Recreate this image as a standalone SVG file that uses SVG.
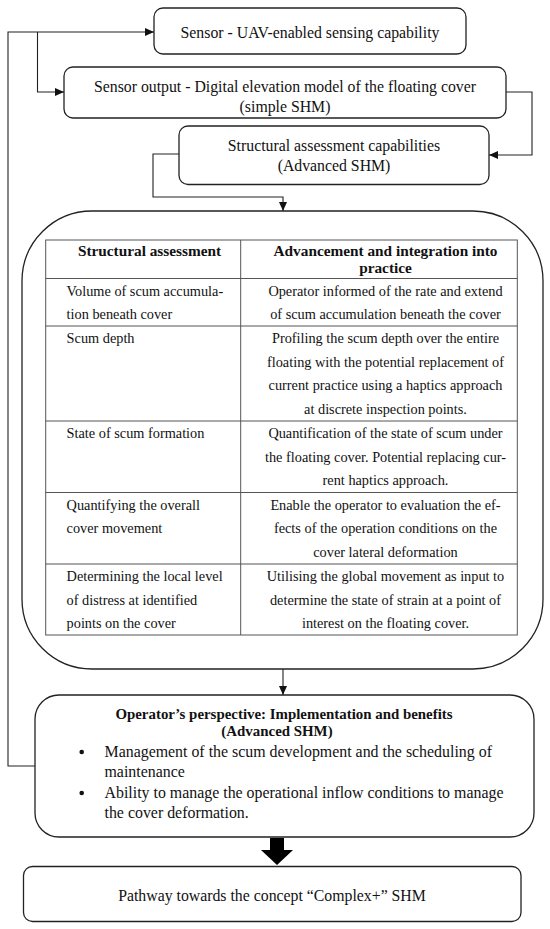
<svg xmlns="http://www.w3.org/2000/svg" width="550" height="929" viewBox="0 0 550 929">
<defs>
<marker id="ah" markerUnits="userSpaceOnUse" markerWidth="9" markerHeight="8" refX="9" refY="4" orient="auto">
<path d="M0,0 L9,4 L0,8 z" fill="#111"/>
</marker>
<style>
text{font-family:"Liberation Serif","Times New Roman",serif;fill:#111}
.box{fill:#fff;stroke:#222;stroke-width:1.3}
.bt{font-size:15.8px;text-anchor:middle}
.th{font-size:15.3px;font-weight:bold;text-anchor:middle}
.tb{font-size:14.3px}
.c2{text-anchor:middle}
.grid{stroke:#555;stroke-width:1;fill:none}
.con{fill:none;stroke:#222;stroke-width:1.1}
.ot{font-size:14.9px;font-weight:bold;text-anchor:middle}
</style>
</defs>
<rect width="550" height="929" fill="#fff"/>
<g id="connectors">
<path class="con" d="M35,766 H8 V32 H154" marker-end="url(#ah)"/>
<path class="con" d="M37.5,32 V92 H64" marker-end="url(#ah)"/>
<path class="con" d="M506,92 H532 V155 H489" marker-end="url(#ah)"/>
<path class="con" d="M179,154 H153 V197 H283 V211" marker-end="url(#ah)"/>
<path class="con" d="M283,669 V695" marker-end="url(#ah)"/>
<polygon points="270,838 284,838 284,850 293,850 277,865 261,850 270,850" fill="#000"/>
</g>
<g id="sensor">
<rect class="box" x="154" y="8" width="312" height="46" rx="9"/>
<text class="bt" x="310" y="37.5">Sensor - UAV-enabled sensing capability</text>
</g>
<g id="sensor-output">
<rect class="box" x="64" y="67" width="442" height="51" rx="9"/>
<text class="bt" x="285" y="92">Sensor output - Digital elevation model of the floating cover</text>
<text class="bt" x="285" y="112">(simple SHM)</text>
</g>
<g id="structural-capabilities">
<rect class="box" x="179" y="126" width="310" height="58.5" rx="9"/>
<text class="bt" x="334" y="151">Structural assessment capabilities</text>
<text class="bt" x="334" y="171">(Advanced SHM)</text>
</g>
<g id="assessment-table">
<rect class="box" x="22" y="211" width="521" height="458" rx="70"/>
<rect class="grid" x="45.7" y="240" width="471.6" height="395"/>
<path class="grid" d="M240.7,240 V635 M45.7,278.5 H517.3 M45.7,326 H517.3 M45.7,421 H517.3 M45.7,492.5 H517.3 M45.7,564 H517.3"/>
<text class="th" x="149.5" y="255.5">Structural assessment</text>
<text class="th" x="385.5" y="255.5">Advancement and integration into</text>
<text class="th" x="385.5" y="273">practice</text>
<g class="tb">
<text x="66.6" y="295.5">Volume of scum accumula-</text>
<text x="66.6" y="318.5">tion beneath cover</text>
<text class="c2" x="385.5" y="295.5">Operator informed of the rate and extend</text>
<text class="c2" x="385.5" y="318.5">of scum accumulation beneath the cover</text>
<text x="66.6" y="343">Scum depth</text>
<text class="c2" x="385.5" y="343">Profiling the scum depth over the entire</text>
<text class="c2" x="385.5" y="366.5">floating with the potential replacement of</text>
<text class="c2" x="385.5" y="390">current practice using a haptics approach</text>
<text class="c2" x="385.5" y="413.5">at discrete inspection points.</text>
<text x="66.6" y="438">State of scum formation</text>
<text class="c2" x="385.5" y="438">Quantification of the state of scum under</text>
<text class="c2" x="385.5" y="461.5">the floating cover. Potential replacing cur-</text>
<text class="c2" x="385.5" y="485">rent haptics approach.</text>
<text x="66.6" y="509.5">Quantifying the overall</text>
<text x="66.6" y="533">cover movement</text>
<text class="c2" x="385.5" y="509.5">Enable the operator to evaluation the ef-</text>
<text class="c2" x="385.5" y="533">fects of the operation conditions on the</text>
<text class="c2" x="385.5" y="556.5">cover lateral deformation</text>
<text x="66.6" y="581">Determining the local level</text>
<text x="66.6" y="604.5">of distress at identified</text>
<text x="66.6" y="628">points on the cover</text>
<text class="c2" x="385.5" y="581">Utilising the global movement as input to</text>
<text class="c2" x="385.5" y="604.5">determine the state of strain at a point of</text>
<text class="c2" x="385.5" y="628">interest on the floating cover.</text>
</g>
</g>
<g id="operator-perspective">
<rect class="box" x="35" y="695" width="499" height="142" rx="24"/>
<text class="ot" x="284" y="719">Operator’s perspective: Implementation and benefits</text>
<text class="ot" x="277" y="736">(Advanced SHM)</text>
<circle cx="81.7" cy="752" r="2.3" fill="#111"/>
<circle cx="81.7" cy="793" r="2.3" fill="#111"/>
<g style="font-size:15.9px">
<text x="104.5" y="757">Management of the scum development and the scheduling of</text>
<text x="104.5" y="777">maintenance</text>
<text x="104.5" y="798">Ability to manage the operational inflow conditions to manage</text>
<text x="104.5" y="818">the cover deformation.</text>
</g>
</g>
<g id="pathway">
<rect class="box" x="23.5" y="866.5" width="497.5" height="55" rx="9"/>
<text class="bt" x="272" y="900.5">Pathway towards the concept “Complex+” SHM</text>
</g>
</svg>
